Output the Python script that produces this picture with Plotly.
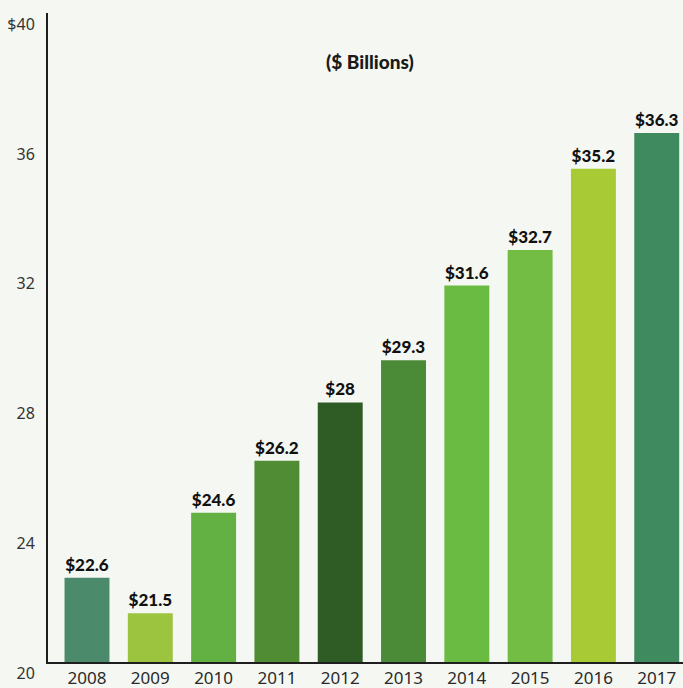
import plotly.graph_objects as go

# Annual totals, $ billions
years = ["2008", "2009", "2010", "2011", "2012", "2013", "2014", "2015", "2016", "2017"]
values = [22.6, 21.5, 24.6, 26.2, 28.0, 29.3, 31.6, 32.7, 35.2, 36.3]
value_labels = ["$22.6", "$21.5", "$24.6", "$26.2", "$28", "$29.3", "$31.6", "$32.7", "$35.2", "$36.3"]
bar_colors = ["#4b8b6b", "#9dc43e", "#63b142", "#4f8c34", "#2f5c24",
              "#4b8a36", "#6abb42", "#73bd45", "#a8cb35", "#3f8a5e"]

y_tick_vals = [20, 24, 28, 32, 36, 40]
y_tick_text = ["20", "24", "28", "32", "36", "$40"]

positions = list(range(len(years)))

fig = go.Figure(
    go.Bar(
        x=positions,
        y=[v - 20 for v in values],
        base=20,
        width=0.71,
        marker=dict(color=bar_colors, line=dict(width=0)),
        text=value_labels,
        textposition="outside",
        cliponaxis=False,
        textfont=dict(family="Lato", size=17, color="#111111", weight=900),
        hoverinfo="skip",
    )
)

fig.update_layout(
    width=683,
    height=688,
    margin=dict(l=48, r=0, t=13, b=26),
    paper_bgcolor="#f5f7f2",
    plot_bgcolor="#f5f7f2",
    showlegend=False,
    annotations=[
        dict(
            text="($ Billions)",
            xref="paper", yref="paper",
            x=0.507, y=0.926,
            xanchor="center", yanchor="middle",
            showarrow=False,
            font=dict(family="Lato", size=19, color="#1a1a1a", weight=900),
        )
    ],
)

fig.update_xaxes(
    range=[-0.616, 9.415],
    tickvals=positions,
    ticktext=years,
    tickfont=dict(family="Noto Sans", size=17, color="#2a2a2a"),
    showline=True,
    linecolor="#1e1e1e",
    linewidth=2,
    showgrid=False,
    zeroline=False,
    ticks="",
    ticklabelstandoff=0,
    automargin=False,
    fixedrange=True,
)

fig.update_yaxes(
    range=[20, 40],
    tickvals=y_tick_vals,
    ticktext=y_tick_text,
    ticklabelposition="outside bottom",
    tickfont=dict(family="Noto Sans", size=16, color="#333333"),
    showline=True,
    linecolor="#1e1e1e",
    linewidth=2,
    showgrid=False,
    zeroline=False,
    ticks="",
    ticklabelstandoff=8,
    automargin=False,
    fixedrange=True,
)

fig.write_html("out.html")
